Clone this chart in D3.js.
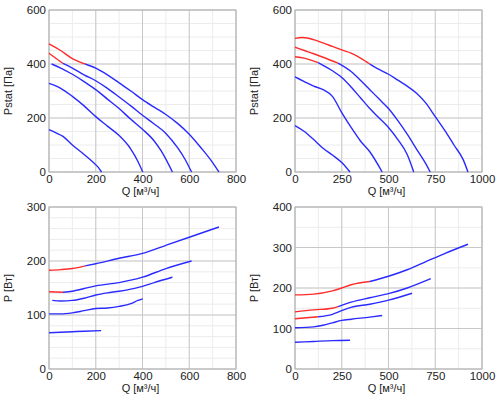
<!DOCTYPE html>
<html><head><meta charset="utf-8">
<script src="https://cdn.jsdelivr.net/npm/d3@7"></script>
<style>body{margin:0;background:#fff}svg{display:block}text{font-family:"Liberation Sans",Arial,sans-serif;fill:#222}</style>
</head><body><svg id="c" width="500" height="399"></svg>
<script>
// ---- data: [Q, value] pairs ----
// Top-left: Pstat [Па] vs Q, Q range 0..800
const tlA = [[0,475],[50,450],[100,420],[155,400],[200,385],[250,360],[300,330],[350,300],[400,268],[450,240],[500,213],[550,180],[600,140],[650,90],[700,35],[727,0]];
const tlB = [[0,440],[60,402],[100,385],[150,360],[200,338],[250,310],[300,278],[350,245],[400,210],[450,178],[500,143],[550,90],[580,50],[610,0]];
const tlC = [[11,400],[50,385],[100,362],[150,335],[200,305],[250,270],[300,235],[350,195],[400,158],[450,115],[480,78],[528,0]];
const tlD = [[0,328],[50,310],[100,280],[150,245],[200,205],[250,170],[300,135],[350,85],[380,40],[401,0]];
const tlE = [[0,157],[30,145],[60,132],[100,100],[150,65],[190,35],[210,18],[225,0]];
const tlRedUntil = [155,60,0,0,0];
// Top-right: Pstat [Па] vs Q, Q range 0..1000
const trA = [[0,495],[40,498],[100,490],[150,478],[200,465],[250,452],[300,440],[350,422],[400,400],[450,380],[500,362],[550,340],[600,318],[650,292],[700,255],[750,205],[800,155],[850,100],[900,45],[925,0]];
const trB = [[0,462],[50,450],[100,438],[150,425],[230,403],[300,372],[350,340],[400,305],[450,270],[500,235],[550,190],[600,140],[650,85],[700,30],[723,0]];
const trC = [[0,427],[50,422],[124,405],[150,395],[200,375],[250,350],[300,315],[350,275],[400,235],[450,200],[500,165],[550,120],[600,65],[635,0]];
const trD = [[0,352],[50,335],[100,318],[150,305],[200,280],[250,220],[300,165],[350,115],[400,75],[466,0]];
const trE = [[0,172],[50,150],[100,120],[150,88],[200,63],[250,35],[294,0]];
const trRedUntil = [400,230,124,0,0];
// Bottom-left: P [Вт] vs Q, Q range 0..800
const blA = [[0,183],[50,184],[100,186],[155,191],[200,195],[300,205],[400,214],[500,229],[600,244],[727,263]];
const blB = [[0,143],[60,142],[100,144],[150,149],[200,154],[300,160],[400,170],[500,186],[610,200]];
const blC = [[14,127],[50,126],[100,127],[150,131],[200,137],[250,141],[300,144],[350,148],[400,153],[450,160],[528,170]];
const blD = [[0,102],[50,102],[100,104],[150,108],[200,112],[250,113],[300,116],[350,121],[380,127],[401,130]];
const blE = [[0,67],[50,68],[100,69],[150,70],[223,71]];
const blRedUntil = [155,60,0,0,0];
// Bottom-right: P [Вт] vs Q, Q range 0..1000
const brA = [[0,183],[100,185],[200,193],[250,200],[300,208],[400,216],[500,229],[600,245],[700,265],[800,285],[925,308]];
const brB = [[0,141],[100,146],[200,150],[231,154],[300,165],[400,176],[500,186],[600,200],[726,223]];
const brC = [[0,124],[124,129],[200,135],[250,144],[300,152],[400,160],[500,170],[626,187]];
const brD = [[0,102],[100,104],[150,108],[200,114],[250,120],[300,123],[400,128],[466,132]];
const brE = [[0,66],[100,68],[200,70],[294,71]];
const brRedUntil = [400,231,124,0,0];

const xTicks800 = [0,200,400,600,800];
const xTicks1000 = [0,250,500,750,1000];
const yTicks600 = [0,200,400,600];
const yTicks300 = [0,100,200,300];
const yTicks400 = [0,100,200,300,400];
const xTitle = "Q [м³/ч]";
const yTitleTop = "Pstat [Па]";
const yTitleBottom = "P [Вт]";

const svg = d3.select("#c");
const RED = "#ff2a2a", BLUE = "#2a2aff";

function panel(o){
  const g = svg.append("g");
  const x = d3.scaleLinear().domain([0, o.xMax]).range([o.x0, o.x1]);
  const y = d3.scaleLinear().domain([0, o.yMax]).range([o.y1, o.y0]);
  d3.range(0, o.xMax + 1e-9, o.xMinor).forEach(v => g.append("line").attr("x1", x(v)).attr("x2", x(v)).attr("y1", o.y0).attr("y2", o.y1).attr("stroke", "#ececec"));
  d3.range(0, o.yMax + 1e-9, o.yMinor).forEach(v => g.append("line").attr("y1", y(v)).attr("y2", y(v)).attr("x1", o.x0).attr("x2", o.x1).attr("stroke", "#ececec"));
  o.xTicks.forEach(v => g.append("line").attr("x1", x(v)).attr("x2", x(v)).attr("y1", o.y0).attr("y2", o.y1).attr("stroke", "#c8c8c8"));
  o.yTicks.forEach(v => g.append("line").attr("y1", y(v)).attr("y2", y(v)).attr("x1", o.x0).attr("x2", o.x1).attr("stroke", "#c8c8c8"));
  g.append("rect").attr("x", o.x0).attr("y", o.y0).attr("width", o.x1 - o.x0).attr("height", o.y1 - o.y0).attr("fill", "none").attr("stroke", "#b4b4b4");
  const ax = g.append("g").attr("transform", `translate(0,${o.y1})`).call(d3.axisBottom(x).tickValues(o.xTicks).tickSize(0).tickPadding(3).tickFormat(d3.format("d")));
  ax.select(".domain").remove();
  const ay = g.append("g").attr("transform", `translate(${o.x0},0)`).call(d3.axisLeft(y).tickValues(o.yTicks).tickSize(0).tickPadding(3).tickFormat(d3.format("d")));
  ay.select(".domain").remove();
  g.selectAll(".tick text").attr("font-size", 11.5).attr("fill", "#222").attr("font-family", "Liberation Sans, Arial, sans-serif");
  g.append("text").attr("x", (o.x0 + o.x1) / 2 - 2).attr("y", o.y1 + 23).attr("text-anchor", "middle").attr("font-size", 11).text(xTitle);
  g.append("text").attr("transform", `translate(${o.x0 - 37},${(o.y0 + o.y1) / 2}) rotate(-90)`).attr("text-anchor", "middle").attr("font-size", 11).text(o.yTitle);
  const line = d3.line().x(d => x(d[0])).y(d => y(d[1])).curve(d3.curveMonotoneX);
  o.curves.forEach((c, i) => {
    const r = o.red[i];
    const redPts = c.filter(d => d[0] <= r);
    const bluePts = c.filter(d => d[0] >= r);
    if (redPts.length > 1) g.append("path").attr("d", line(redPts)).attr("fill", "none").attr("stroke", RED).attr("stroke-width", 1.4);
    if (bluePts.length > 1) g.append("path").attr("d", line(bluePts)).attr("fill", "none").attr("stroke", BLUE).attr("stroke-width", 1.4);
  });
}

panel({x0:49, x1:236, y0:10, y1:172, xMax:800, yMax:600, xMinor:100, yMinor:50, xTicks:xTicks800, yTicks:yTicks600, yTitle:yTitleTop, curves:[tlA,tlB,tlC,tlD,tlE], red:tlRedUntil});
panel({x0:295, x1:482, y0:10, y1:172, xMax:1000, yMax:600, xMinor:125, yMinor:50, xTicks:xTicks1000, yTicks:yTicks600, yTitle:yTitleTop, curves:[trA,trB,trC,trD,trE], red:trRedUntil});
panel({x0:49, x1:236, y0:207, y1:369, xMax:800, yMax:300, xMinor:100, yMinor:20, xTicks:xTicks800, yTicks:yTicks300, yTitle:yTitleBottom, curves:[blA,blB,blC,blD,blE], red:blRedUntil});
panel({x0:295, x1:482, y0:207, y1:369, xMax:1000, yMax:400, xMinor:125, yMinor:50, xTicks:xTicks1000, yTicks:yTicks400, yTitle:yTitleBottom, curves:[brA,brB,brC,brD,brE], red:brRedUntil});
</script></body></html>
